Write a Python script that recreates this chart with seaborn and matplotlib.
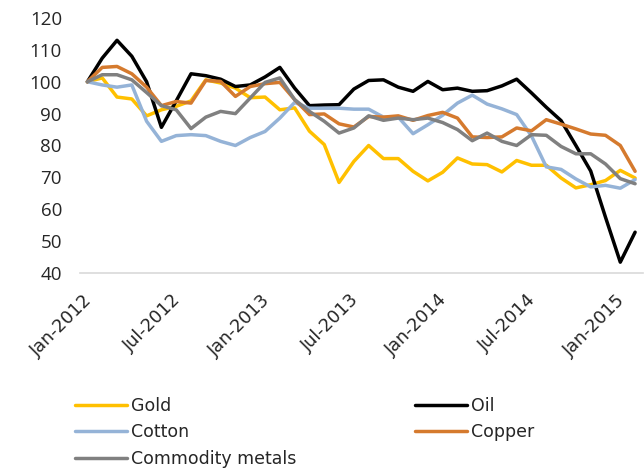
import pandas as pd
import seaborn as sns
import matplotlib.pyplot as plt
from matplotlib.lines import Line2D
from matplotlib.transforms import ScaledTranslation

# monthly index levels, Jan-2012 = 100
months = pd.date_range('2012-01-01', periods=38, freq='MS')
gold = [100, 101.2, 95.2, 94.6, 89.3, 91.2, 92.3, 94, 100.6, 99.6,
        98, 95, 95.2, 91.2, 91.8, 84.5, 80.3, 68.4, 75, 80,
        75.9, 75.9, 71.9, 68.9, 71.6, 76.1, 74.2, 74, 71.7, 75.3,
        73.8, 73.8, 69.8, 66.7, 67.7, 69, 72.2, 69.8]
oil = [100, 107.4, 113, 108, 100, 85.7, 94, 102.5, 101.9, 100.8,
       98.5, 99, 101.5, 104.5, 98, 92.5, 92.7, 92.8, 97.7, 100.4,
       100.6, 98.3, 97, 100.1, 97.5, 98, 97, 97.2, 98.7, 100.8,
       96.5, 92, 87.8, 80, 72, 57.5, 43.4, 52.8]
cotton = [100, 99, 98.3, 99, 87.6, 81.3, 83.1, 83.4, 83.1, 81.3,
          80, 82.5, 84.4, 88.6, 93.5, 91.7, 91.7, 91.7, 91.4, 91.4,
          88.9, 88.9, 83.7, 86.5, 89.5, 93.3, 95.8, 93, 91.5, 89.7,
          83, 73.3, 72.5, 69.5, 67, 67.5, 66.6, 69.3]
copper = [100, 104.5, 104.8, 102.5, 98.3, 92.5, 93.8, 93.3, 100.4, 100.1,
          95.4, 98.5, 99.4, 99.8, 94.4, 89.7, 89.9, 86.8, 85.8, 89.1,
          88.9, 89.3, 87.9, 89.4, 90.4, 88.6, 82.7, 82.5, 82.7, 85.5,
          84.6, 88.1, 86.7, 85.2, 83.6, 83.2, 80, 71.9]
metals = [100, 102.2, 102.2, 100.6, 96.6, 92.5, 91.2, 85.3, 88.9, 90.7,
          90, 94.9, 99.8, 101.2, 94.4, 90.7, 87.6, 83.9, 85.5, 89.3,
          87.9, 88.6, 88.1, 88.6, 87.2, 85, 81.5, 83.9, 81.3, 80,
          83.4, 83.2, 79.7, 77.4, 77.4, 74.2, 69.6, 68]
tick_labels = ['Jan-2012', 'Jul-2012', 'Jan-2013', 'Jul-2013',
               'Jan-2014', 'Jul-2014', 'Jan-2015']

series = ['Gold', 'Oil', 'Cotton', 'Copper', 'Commodity metals']
colors = {'Gold': '#FFC000', 'Oil': '#000000', 'Cotton': '#95B3D7',
          'Copper': '#D57A2E', 'Commodity metals': '#808080'}

df = pd.DataFrame({'Gold': gold, 'Oil': oil, 'Cotton': cotton,
                   'Copper': copper, 'Commodity metals': metals})
df['pos'] = range(len(months))
long_df = df.melt(id_vars='pos', var_name='series', value_name='value')

sns.set_style('white')
plt.rcParams['font.family'] = ['DejaVu Sans']

fig = plt.figure(figsize=(6.44, 4.70), dpi=100)
ax = fig.add_axes([80 / 644, 1 - 273 / 470, 562.5 / 644, 255 / 470])
sns.lineplot(data=long_df, x='pos', y='value', hue='series', hue_order=series,
             palette=colors, linewidth=2.5, ax=ax, legend=False)

ax.set_xlim(-0.5, len(months) - 0.5)
ax.set_ylim(40, 120)
ax.set_yticks(range(40, 121, 10))
ax.set_xlabel('')
ax.set_ylabel('')

# category axis: labels every 6 months, tick marks between categories
ax.set_xticks(range(0, len(months), 6))
ax.set_xticklabels(tick_labels)
ax.set_xticks([p - 0.5 for p in range(0, len(months), 6)], minor=True)
ax.tick_params(axis='x', which='major', length=0, pad=13, labelsize=12.8)
ax.tick_params(axis='x', which='minor', length=3.6, width=1.2, color='#D9D9D9')
offset = ScaledTranslation(-3.2 / 72, 0, fig.dpi_scale_trans)
for lab in ax.get_xticklabels():
    lab.set_rotation(45)
    lab.set_ha('right')
    lab.set_rotation_mode('anchor')
    lab.set_transform(lab.get_transform() + offset)

ax.tick_params(axis='y', length=0, pad=13, labelsize=13.5)
for lab in ax.get_yticklabels():
    lab.set_family('Open Sans')

for s in ['top', 'right', 'left']:
    ax.spines[s].set_visible(False)
ax.spines['bottom'].set_color('#D9D9D9')
ax.spines['bottom'].set_linewidth(1.2)
ax.grid(False)

handles = {s: Line2D([], [], color=colors[s], linewidth=2.5) for s in series}
order = ['Gold', 'Cotton', 'Commodity metals', 'Oil', 'Copper']
fig.legend([handles[s] for s in order], order, ncol=2, loc='upper left',
           bbox_to_anchor=(75 / 644, 1 - 397 / 470), frameon=False,
           fontsize=12.5, handlelength=3.0, handletextpad=0.25,
           columnspacing=6.8, labelspacing=0.48, borderpad=0, borderaxespad=0)

fig.savefig('out.png', dpi=100)
